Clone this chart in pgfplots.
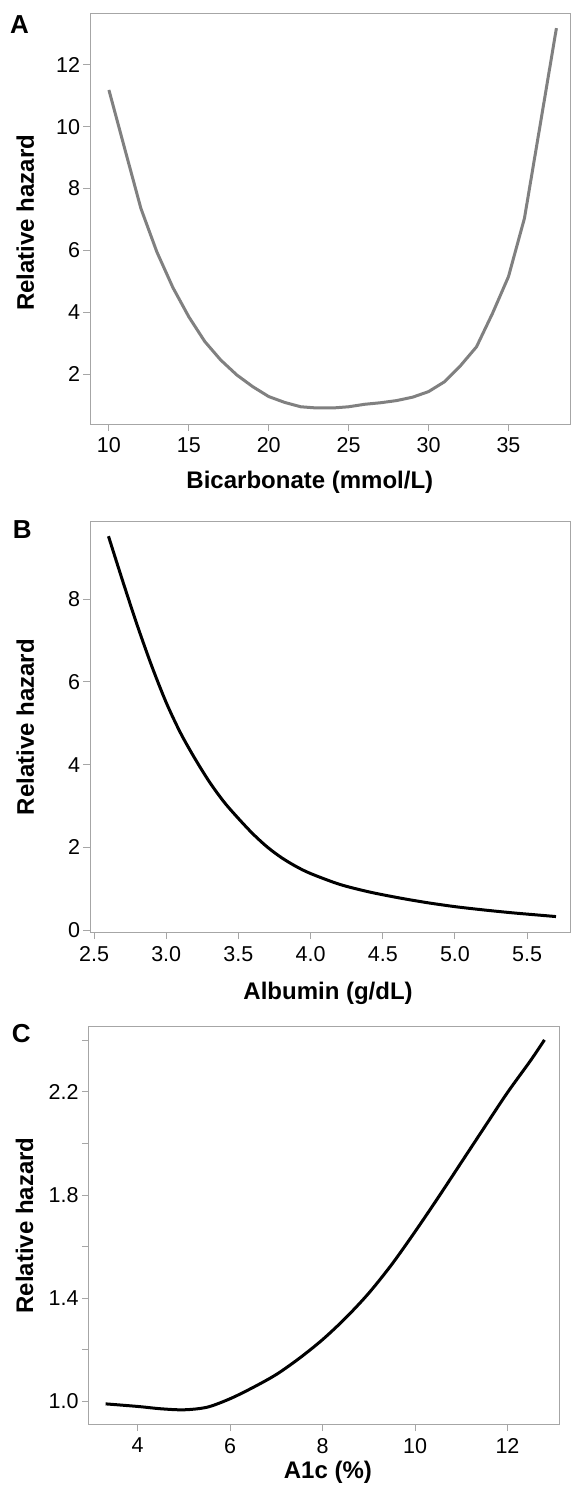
\documentclass[border=0pt]{standalone}
\usepackage{fontspec}
\setmainfont{Liberation Sans}
\usepackage{pgfplots}
\pgfplotsset{compat=1.18}
\definecolor{axgray}{HTML}{A6A6A6}
\definecolor{curvegray}{HTML}{808080}
\newcommand\labfont{\bfseries\fontsize{24}{28}\selectfont}
\newcommand\letfont{\bfseries\fontsize{26}{30}\selectfont}
\newcommand\tickfont{\fontsize{21.5}{25}\selectfont}
\pgfplotsset{
  panel/.style={
    scale only axis,
    clip=false,
    axis line style={axgray, line width=0.9pt},
    every tick/.style={axgray, line width=0.9pt},
    tick align=outside,
    tick pos=left,
    major tick length=6.5pt,
    /pgf/number format/assume math mode=true,
    xticklabel style={font=\tickfont, text=black, yshift=-3.5pt},
    yticklabel style={font=\tickfont, text=black},
  }
}
\begin{document}
\begin{tikzpicture}
\useasboundingbox (0pt,0pt) rectangle (571pt,-1492pt);
% Panel A
\begin{axis}[panel,
  at={(90pt,-424pt)}, anchor=south west,
  width=480pt, height=410.7pt,
  xmin=8.817, xmax=38.85, ymin=0.382, ymax=13.67,
  xtick={10,15,20,25,30,35}, ytick={2,4,6,8,10,12},
  xlabel={Bicarbonate (mmol/L)}, ylabel={Relative hazard},
  x label style={font=\labfont, anchor=base, at={(axis description cs:0.458,-0.1575)}},
  y label style={font=\labfont, anchor=center, at={(axis description cs:-0.135,0.49)}},
]
\addplot[curvegray, line width=3pt] table {
10 11.19
11 9.27
12 7.36
13 5.95
14 4.80
15 3.85
16 3.05
17 2.45
18 1.97
19 1.59
20 1.27
21 1.08
22 0.94
23 0.90
24 0.90
25 0.94
26 1.02
27 1.07
28 1.14
29 1.25
30 1.43
31 1.75
32 2.27
33 2.88
34 3.96
35 5.15
36 7.04
37 10.11
38 13.19
};
\node[anchor=base west, inner sep=0pt, font=\letfont] at (axis description cs:-0.1667,0.952) {A};
\end{axis}
% Panel B
\begin{axis}[panel,
  at={(90pt,-932.7pt)}, anchor=south west,
  width=480pt, height=411pt,
  xmin=2.472, xmax=5.797, ymin=-0.06, ymax=9.87,
  xtick={2.5,3.0,3.5,4.0,4.5,5.0,5.5}, ytick={0,2,4,6,8},
  xticklabel style={/pgf/number format/.cd, fixed, fixed zerofill, precision=1},
  xlabel={Albumin (g/dL)}, ylabel={Relative hazard},
  x label style={font=\labfont, anchor=base, at={(axis description cs:0.496,-0.1637)}},
  y label style={font=\labfont, anchor=center, at={(axis description cs:-0.135,0.5)}},
]
\addplot[black, line width=3pt, smooth] table {
2.60 9.52
2.70 8.42
2.80 7.36
2.90 6.38
3.00 5.50
3.10 4.76
3.20 4.14
3.30 3.58
3.40 3.10
3.50 2.70
3.60 2.33
3.70 2.01
3.80 1.75
3.90 1.54
4.00 1.37
4.20 1.11
4.40 0.93
4.60 0.79
4.80 0.67
5.00 0.57
5.20 0.49
5.40 0.42
5.60 0.36
5.70 0.33
};
\node[anchor=base west, inner sep=0pt, font=\letfont] at (axis description cs:-0.161,0.958) {B};
\end{axis}
% Panel C
\begin{axis}[panel,
  at={(88.5pt,-1424.5pt)}, anchor=south west,
  width=471.2pt, height=397.8pt,
  xmin=2.935, xmax=13.13, ymin=0.911, ymax=2.452,
  xtick={4,6,8,10,12},
  ytick={1.0,1.2,1.4,1.6,1.8,2.0,2.2,2.4},
  yticklabels={1.0,,1.4,,1.8,,2.2,},
  xlabel={A1c (\%)}, ylabel={Relative hazard},
  x label style={font=\labfont, anchor=base, at={(axis description cs:0.508,-0.136)}},
  y label style={font=\labfont, anchor=center, at={(axis description cs:-0.1356,0.5)}},
]
\addplot[black, line width=3pt, smooth] table {
3.305 0.991
4.0 0.981
4.5 0.972
5.0 0.968
5.5 0.978
6.0 1.011
6.5 1.055
7.0 1.105
7.5 1.168
8.0 1.240
8.5 1.324
9.0 1.420
9.5 1.532
10.0 1.658
10.5 1.790
11.0 1.926
11.5 2.062
12.0 2.197
12.5 2.321
12.8 2.401
};
\node[anchor=base west, inner sep=0pt, font=\letfont] at (axis description cs:-0.163,0.9615) {C};
\end{axis}
\end{tikzpicture}
\end{document}
